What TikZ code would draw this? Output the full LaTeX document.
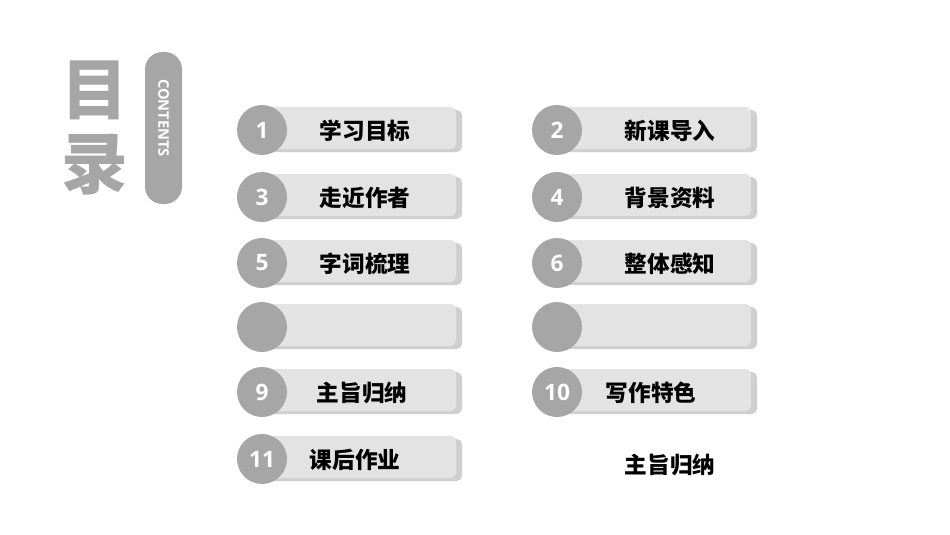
\documentclass[tikz,border=0pt]{standalone}
\usepackage{fontspec}
\setmainfont{Open Sans}
\newfontfamily\cjk{Noto Sans CJK SC}
\usetikzlibrary{positioning}
\definecolor{ballgray}{HTML}{A6A6A6}
\definecolor{bargray}{HTML}{E3E3E3}
\definecolor{shadegray}{HTML}{CFCFCF}
\begin{document}
\begin{tikzpicture}[x=0.75pt,y=-0.75pt,
        bar/.style={fill=bargray,rounded corners=4pt,draw=none},
        shade/.style={fill=shadegray,rounded corners=4pt,draw=none},
        ball/.style={circle,fill=ballgray,minimum size=37.5pt,inner sep=0pt,
          text=white,font=\bfseries\fontsize{17}{17}\selectfont},
        label/.style={font=\cjk\bfseries\fontsize{17}{17}\selectfont}]
    \useasboundingbox[fill=white] (0,0) rectangle (950,535);
    % Title
    \node[text=ballgray,font=\cjk\bfseries\fontsize{50}{50}\selectfont] (mu) at (95,90) {目};
    \node[text=ballgray,font=\cjk\bfseries\fontsize{50}{50}\selectfont] (lu) at (95,165) {录};
    \fill[ballgray,rounded corners=13pt] (145,52) rectangle (182,204);
    \node[rotate=-90,text=white,font=\bfseries\fontsize{11}{11}\selectfont] (cont) at (163.5,118) {CONTENTS};
    % Items
    \foreach \cx/\cy/\num/\txt/\tx [count=\i] in {
        262/130/1/学习目标/365, 557/130/2/新课导入/670,
        262/197/3/走近作者/365, 557/197/4/背景资料/670,
        262/263/5/字词梳理/365, 557/263/6/整体感知/670,
        262/327//{}/365, 557/327//{}/670,
        262/392/9/主旨归纳/362, 557/392/10/写作特色/651,
        262/459/11/课后作业/355}{
      \fill[shade] (\cx+4,\cy-20) rectangle (\cx+200,\cy+22);
      \fill[bar] (\cx,\cy-23) rectangle (\cx+194,\cy+19);
      \node[ball] (n\i) at (\cx,\cy) {\num};
      \node[label] (t\i) at (\tx,\cy+1) {\txt};
    }
    \node[label] (extra) at (670,465) {主旨归纳};
\end{tikzpicture}
\end{document}
